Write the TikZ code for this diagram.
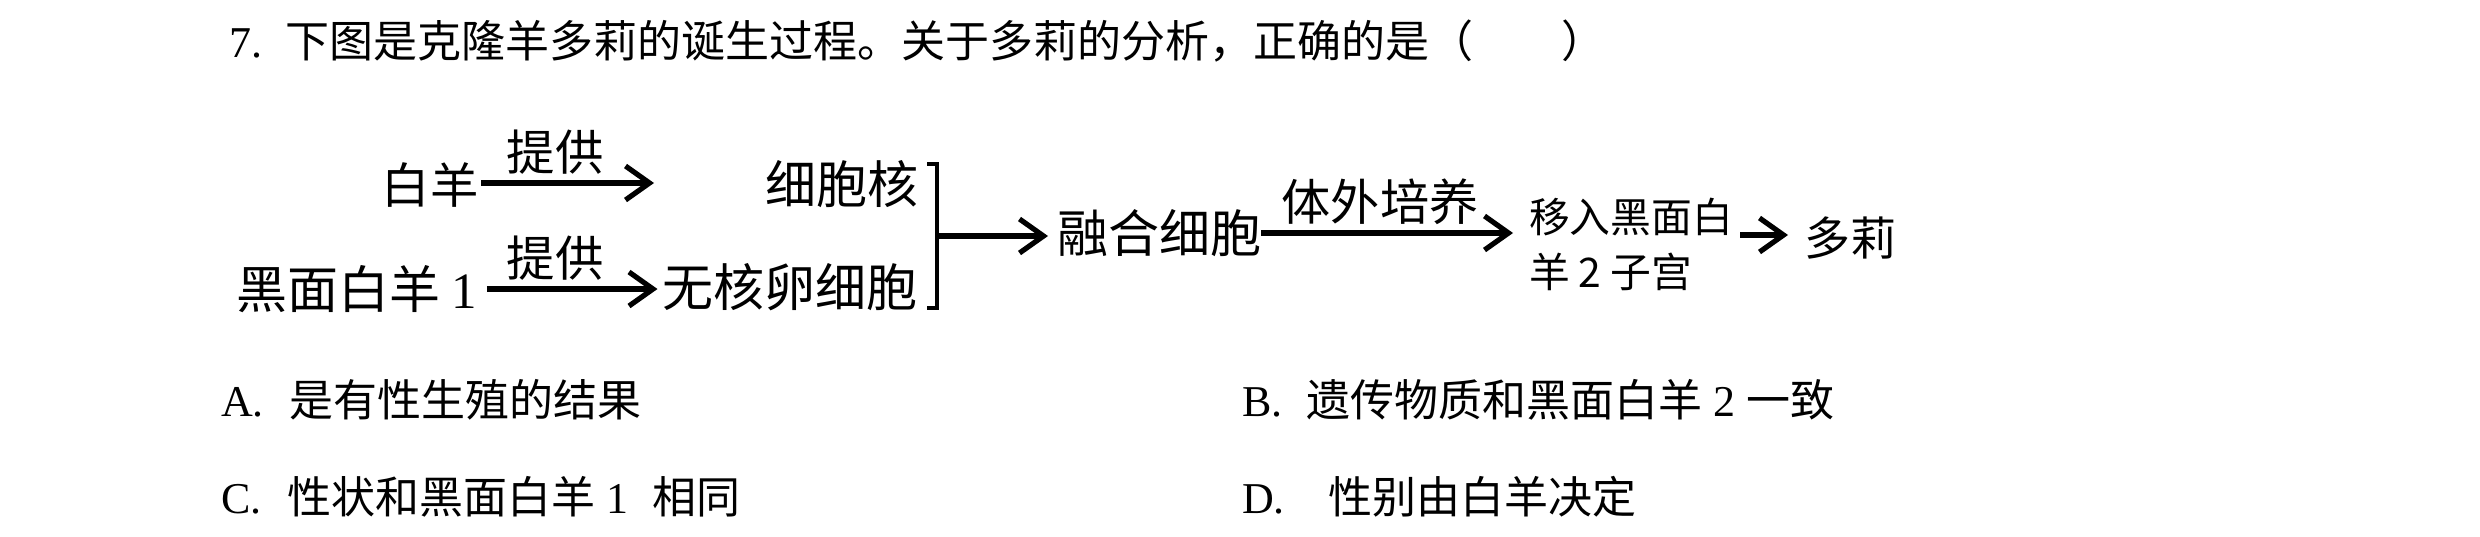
\documentclass[tikz,border=0pt]{standalone}
\usepackage{fontspec}
\setmainfont{Liberation Serif}
\newfontfamily\cjk{Noto Sans CJK SC}
\usetikzlibrary{arrows.meta}
\newcommand\fsz[1]{\fontsize{#1}{#1}\selectfont}
\begin{document}
\begin{tikzpicture}[x=0.25pt,y=-0.25pt,
  txt/.style={inner sep=0pt, outer sep=0pt},
  arr/.style={line width=1.3pt, -{Straight Barb[length=6pt,width=8.5pt]}},
  brk/.style={line width=1pt}]
\useasboundingbox[fill=white] (0,0) rectangle (2480,536);
% question
\node[txt, font=\fsz{11pt}, anchor=base west] (qnum) at (229,57) {7.};
\node[txt, font=\cjk\fsz{11pt}, anchor=west] (qtext) at (285,41) {下图是克隆羊多莉的诞生过程。关于多莉的分析，正确的是（\hspace{2em}）};
% diagram texts
\node[txt, font=\cjk\fsz{12.1pt}] (baiyang) at (430,185) {白羊};
\node[txt, font=\cjk\fsz{12.1pt}] (tg1) at (555,152) {提供};
\node[txt, font=\cjk\fsz{12.75pt}] (nucleus) at (842,184) {细胞核};
\node[txt, font=\cjk\fsz{12.75pt}, anchor=west] (heimian) at (236,289) {黑面白羊 {\rmfamily 1}};
\node[txt, font=\cjk\fsz{12.1pt}] (tg2) at (555,258) {提供};
\node[txt, font=\cjk\fsz{12.75pt}] (egg) at (790,287) {无核卵细胞};
\node[txt, font=\cjk\fsz{12.75pt}] (fused) at (1159,233) {融合细胞};
\node[txt, font=\cjk\fsz{12.3pt}] (culture) at (1380,202) {体外培养};
\node[txt, font=\cjk\fsz{10.2pt}, anchor=west] (implant1) at (1529,217) {移入黑面白};
\node[txt, font=\cjk\fsz{10.2pt}, anchor=west] (implant2) at (1529,272) {羊 2 子宫};
\node[txt, font=\cjk\fsz{11.5pt}] (dolly) at (1850,238) {多莉};
% connectors
\coordinate (a1e) at (654,183);
\draw[arr] (baiyang.east |- a1e) ++(3,0) -- (a1e);
\draw[arr] ([xshift=2.5pt]heimian.east) -- ([xshift=-1.25pt]heimian.east -| egg.west);
\coordinate (brt) at (937,164);
\coordinate (brb) at (937,308);
\coordinate (brm) at (937,236);
\draw[brk] ([xshift=-2.5pt]brt) -- (brt) -- (brb) -- ([xshift=-2.5pt]brb);
\draw[arr] (brm) -- ([xshift=-2.25pt]fused.west |- brm);
\coordinate (a3e) at (1513,233);
\draw[arr] (fused.east |- a3e) -- (a3e);
\coordinate (a4s) at (1740,235);
\coordinate (a4e) at (1788,235);
\draw[arr] (a4s) -- (a4e);
% options
\node[txt, font=\fsz{11pt}, anchor=west] (optA) at (221,400) {A.\hspace{6.5pt}{\cjk 是有性生殖的结果}};
\node[txt, font=\fsz{11pt}, anchor=west] (optB) at (1242,400) {B.\hspace{6pt}{\cjk 遗传物质和黑面白羊} 2 {\cjk 一致}};
\node[txt, font=\fsz{11pt}, anchor=west] (optC) at (221,497) {C.\hspace{6.5pt}{\cjk 性状和黑面白羊} 1\hspace{6pt}{\cjk 相同}};
\node[txt, font=\fsz{11pt}, anchor=west] (optD) at (1242,497) {D.\hspace{11pt}{\cjk 性别由白羊决定}};
\end{tikzpicture}
\end{document}
